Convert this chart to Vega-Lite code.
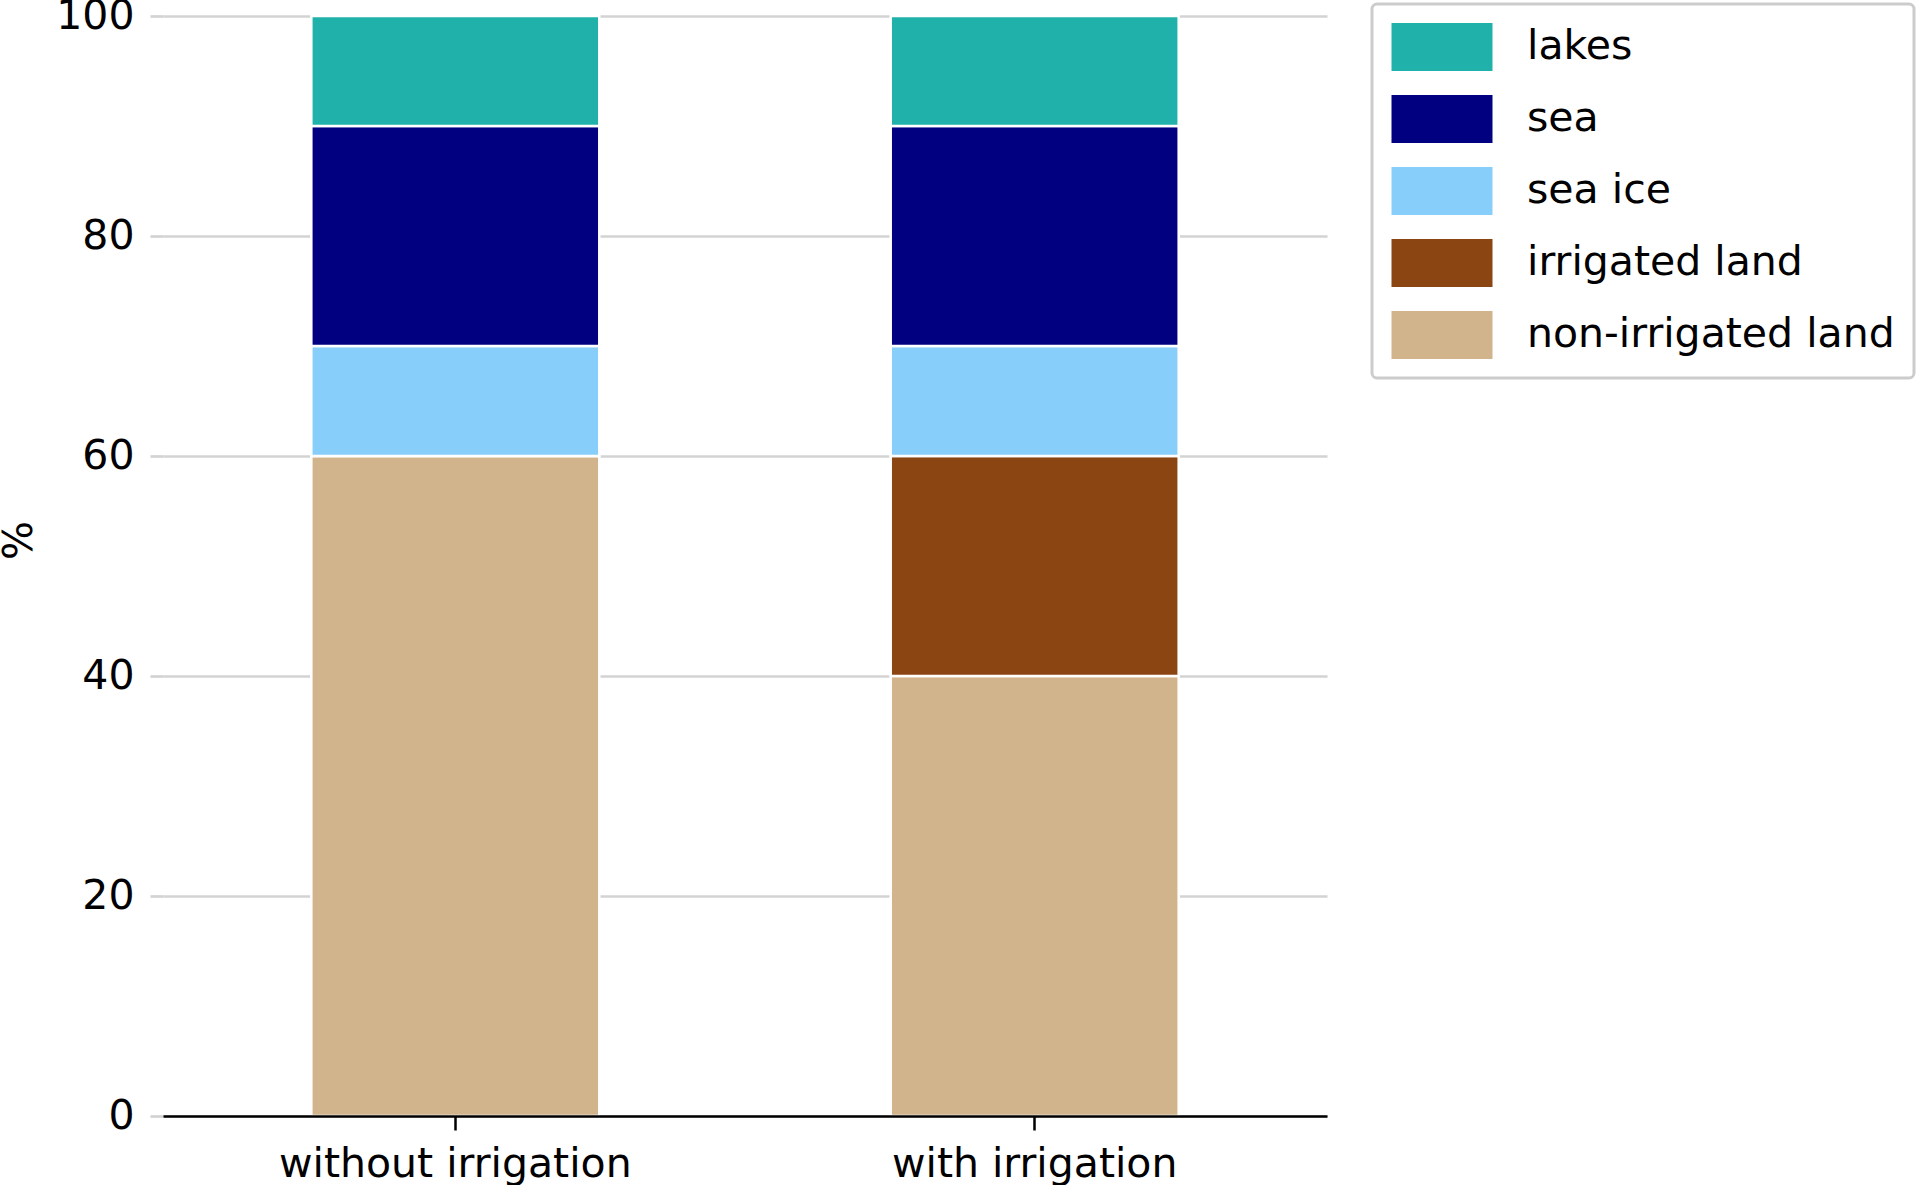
{
  "$schema": "https://vega.github.io/schema/vega-lite/v6.json",
  "width": 1164,
  "height": 1100,
  "autosize": {"type": "none"},
  "padding": {"left": 163, "top": 16, "right": 591, "bottom": 69},
  "background": "white",
  "config": {
    "view": {"stroke": null},
    "font": "DejaVu Sans",
    "legend": {
      "strokeColor": "#cccccc",
      "strokeWidth": 3,
      "cornerRadius": 5,
      "fillColor": "white",
      "padding": 19
    }
  },
  "data": {
    "values": [
      {"scenario": "without irrigation", "category": "non-irrigated land", "rank": 1, "percent": 60},
      {"scenario": "without irrigation", "category": "irrigated land", "rank": 2, "percent": 0},
      {"scenario": "without irrigation", "category": "sea ice", "rank": 3, "percent": 10},
      {"scenario": "without irrigation", "category": "sea", "rank": 4, "percent": 20},
      {"scenario": "without irrigation", "category": "lakes", "rank": 5, "percent": 10},
      {"scenario": "with irrigation", "category": "non-irrigated land", "rank": 1, "percent": 40},
      {"scenario": "with irrigation", "category": "irrigated land", "rank": 2, "percent": 20},
      {"scenario": "with irrigation", "category": "sea ice", "rank": 3, "percent": 10},
      {"scenario": "with irrigation", "category": "sea", "rank": 4, "percent": 20},
      {"scenario": "with irrigation", "category": "lakes", "rank": 5, "percent": 10}
    ]
  },
  "mark": {"type": "bar", "stroke": "white", "strokeWidth": 2.5, "opacity": 1},
  "encoding": {
    "x": {
      "field": "scenario",
      "type": "nominal",
      "sort": ["without irrigation", "with irrigation"],
      "scale": {"paddingInner": 0.503, "paddingOuter": 0.256},
      "axis": {
        "title": null,
        "labelAngle": 0,
        "labelFontSize": 41,
        "labelColor": "black",
        "labelPadding": 14,
        "labelLimit": 1000,
        "domainColor": "black",
        "domainWidth": 2.7,
        "tickColor": "black",
        "tickWidth": 2.5,
        "tickSize": 14,
        "zindex": 1
      }
    },
    "y": {
      "field": "percent",
      "type": "quantitative",
      "stack": "zero",
      "scale": {"domain": [0, 100], "nice": false},
      "axis": {
        "title": "%",
        "titleFontSize": 41,
        "titleFontWeight": "normal",
        "titleColor": "black",
        "titleAngle": 270,
        "titleAlign": "center",
        "titleBaseline": "middle",
        "titleX": -144,
        "titleY": 524,
        "values": [0, 20, 40, 60, 80, 100],
        "labelFontSize": 41,
        "labelColor": "black",
        "labelPadding": 16,
        "domain": false,
        "tickColor": "#d3d3d3",
        "tickWidth": 2.7,
        "tickSize": 13,
        "grid": true,
        "gridColor": "#d3d3d3",
        "gridWidth": 2.7,
        "zindex": 0
      }
    },
    "order": {"field": "rank", "type": "quantitative"},
    "color": {
      "field": "category",
      "type": "nominal",
      "scale": {
        "domain": ["lakes", "sea", "sea ice", "irrigated land", "non-irrigated land"],
        "range": ["#20B2AA", "#000080", "#87CEFA", "#8B4513", "#D2B48C"]
      },
      "legend": {
        "title": null,
        "orient": "none",
        "legendX": 1209,
        "legendY": -12,
        "symbolType": "M-2.104,-1H2.104V1H-2.104Z",
        "symbolSize": 2304,
        "symbolStrokeWidth": 0,
        "symbolOpacity": 1,
        "symbolOffset": 27,
        "labelOffset": 61,
        "rowPadding": 24,
        "labelFontSize": 41,
        "labelColor": "black",
        "labelLimit": 1000
      }
    }
  }
}
